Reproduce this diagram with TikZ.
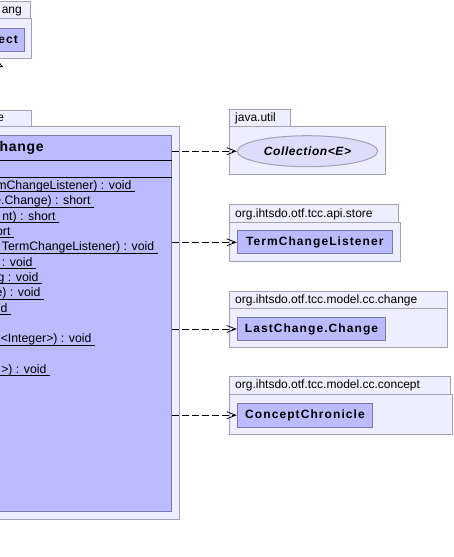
\documentclass[tikz,border=0pt]{standalone}
\usepackage{fontspec}
\setmainfont{Liberation Sans}
\usetikzlibrary{arrows.meta}
\usetikzlibrary{shapes.geometric}
\definecolor{pkgfill}{HTML}{EEEEFF}
\definecolor{pkgline}{HTML}{A2A2B6}
\definecolor{clsfill}{HTML}{BBBBFF}
\definecolor{clsline}{HTML}{7A7AAA}
\definecolor{ifcfill}{HTML}{DDDDFB}

\begin{document}
\begin{tikzpicture}[x=1pt,y=-1pt,
        pkg/.style={draw=pkgline,fill=pkgfill,line width=1pt},
        cls/.style={draw=clsline,fill=clsfill,line width=1pt,inner sep=0pt},
        lbl/.style={font=\fontsize{12}{14}\selectfont,inner sep=0pt,text height=8.6pt,text depth=2.5pt},
        nm/.style={font=\fontsize{12}{14}\selectfont\bfseries\addfontfeature{LetterSpace=9},text height=8.6pt,text depth=2.5pt},
        mth/.style={font=\fontsize{12.3}{14}\selectfont,inner sep=0pt},
        dep/.style={dash pattern=on 7pt off 3pt,-{Straight Barb[length=9pt,width=7pt]},line width=0.8pt},
        gen/.style={-{Triangle[open,length=6.5pt,width=10pt]},line width=0.8pt}]
        \useasboundingbox (0,0) rectangle (454,557);
        \clip (0,0) rectangle (454,557);
        % superclass, cut at the left edge
        \draw[pkg] (-20,1.7) rectangle (30,18.3);
        \draw[pkg] (-20,18.3) rectangle (31.7,58.8);
        \node[lbl,anchor=east] (langlbl) at (22,10) {ang};
        \node[cls,nm,minimum width=32.5,minimum height=23.5] (obj) at (8.25,40) {ect};
        % main package and class
        \draw[pkg] (-20,110) rectangle (31.7,126.5);
        \draw[pkg] (-20,126.5) rectangle (179.3,519);
        \node[lbl,anchor=east] (mainlbl) at (4.2,118) {e};
        \node[cls,minimum width=191.5,minimum height=376,anchor=north east] (tc) at (171.5,135) {};
        \node[nm,font=\fontsize{14}{16}\selectfont\bfseries\addfontfeature{LetterSpace=5},anchor=west,inner sep=0pt] (tcname) at (-0.5,148.3) {hange};
        \draw[line width=1pt] (tc.west |- 0,160) -- (tc.east |- 0,160);
        \draw[line width=1pt] (tc.west |- 0,177.3) -- (tc.east |- 0,177.3);
        \foreach \k/\txt/\ex in {0/mChangeListener) : void/135,1/e.Change) : short/94,2/nt) : short/59,3/ort/14,4/TermChangeListener) : void/157.7,5/: void/36,6/g : void/42,7/e) : void/44,8/d/11,10/<Integer>) : void/95,12/>) : void/50}
        {
            \node[mth,anchor=base east] (m\k) at (\ex-3.3,189.5+15.33*\k) {\txt};
            \draw[line width=0.9pt] (-1,191.8+15.33*\k) -- (\ex,191.8+15.33*\k);
        }
        % generalization tip below the superclass
        \coordinate (gtip) at (-2,60.5);
        \draw[gen] (tc.north -| gtip) -- (gtip);
        % used packages
        \draw[pkg] (229.3,109.3) rectangle (290.7,126);
        \draw[pkg] (229.3,126) rectangle (385.7,174);
        \node[lbl,anchor=west] (utillbl) at (235,118.3) {java.util};
        \node[ellipse,draw=pkgline,fill=ifcfill,line width=1pt,minimum width=140.4,minimum height=31,inner sep=0pt,
            font=\fontsize{12}{14}\selectfont\bfseries\itshape\addfontfeature{LetterSpace=5}] (coll) at (307.5,151.2) {Collection<E>};
        \draw[pkg] (229.3,204.3) rectangle (398.3,222.3);
        \draw[pkg] (229.3,222.3) rectangle (400.3,261);
        \node[lbl,anchor=west] (storelbl) at (235,214) {org.ihtsdo.otf.tcc.api.store};
        \node[cls,nm,minimum width=155,minimum height=23.3] (tcl) at (314.8,242.3) {TermChangeListener};
        \draw[pkg] (229.3,291.7) rectangle (447.3,308.3);
        \draw[pkg] (229.3,308.3) rectangle (447.3,347.7);
        \node[lbl,anchor=west] (changelbl) at (235,300) {org.ihtsdo.otf.tcc.model.cc.change};
        \node[cls,nm,minimum width=148.4,minimum height=22.5] (lcc) at (311.5,329) {LastChange.Change};
        \draw[pkg] (229.3,376) rectangle (450,394);
        \draw[pkg] (229.3,394) rectangle (452,434.5);
        \node[lbl,anchor=west] (conceptlbl) at (235,385) {org.ihtsdo.otf.tcc.model.cc.concept};
        \node[cls,nm,minimum width=135.4,minimum height=23.7] (cch) at (305,415.2) {ConceptChronicle};
        % dependencies
        \draw[dep] (tc.east |- coll.west) -- (coll.west);
        \draw[dep] (tc.east |- tcl.west) -- (tcl.west);
        \draw[dep] (tc.east |- lcc.west) -- (lcc.west);
        \draw[dep] (tc.east |- cch.west) -- (cch.west);
\end{tikzpicture}
\end{document}
